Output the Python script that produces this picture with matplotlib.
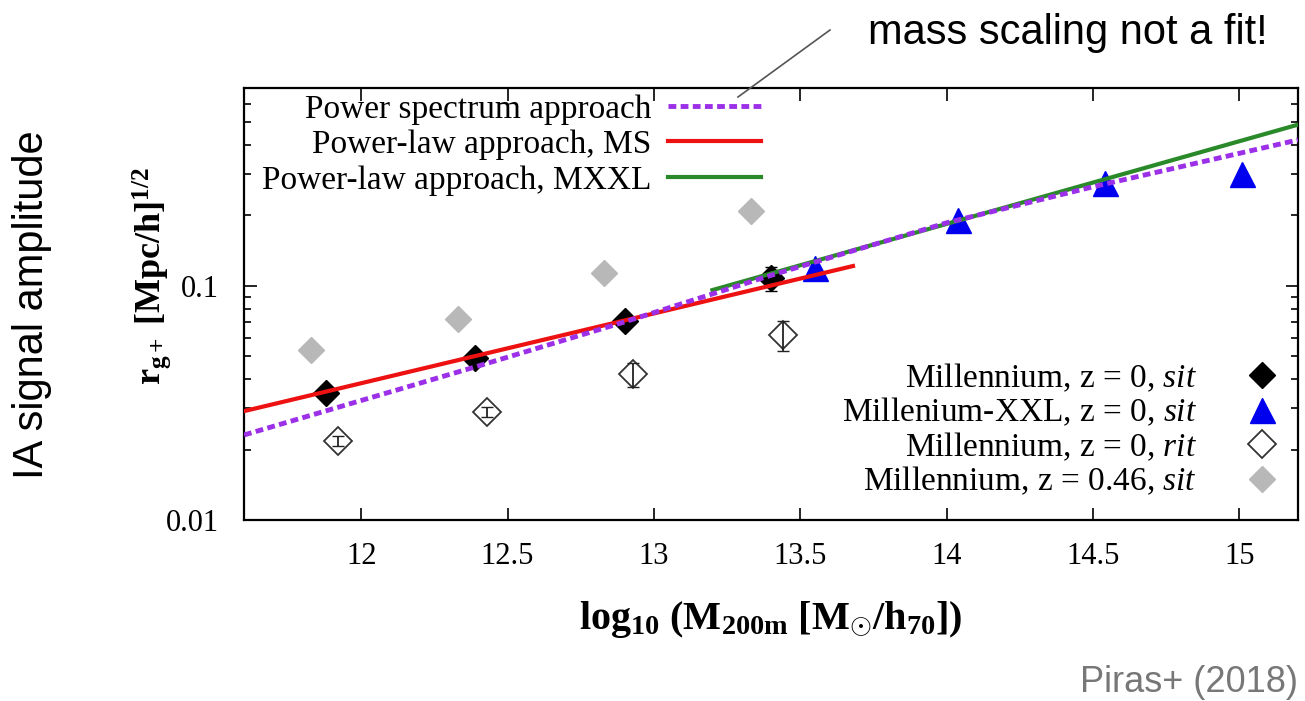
import matplotlib
matplotlib.use('Agg')
import matplotlib.pyplot as plt
from matplotlib.ticker import FixedLocator, LogLocator, NullFormatter
import numpy as np

plt.rcParams['font.family'] = 'Liberation Serif'
plt.rcParams['mathtext.fontset'] = 'custom'
plt.rcParams['mathtext.rm'] = 'Liberation Serif'
plt.rcParams['mathtext.it'] = 'Liberation Serif:italic'
plt.rcParams['mathtext.bf'] = 'Liberation Serif:bold'

# Millennium, z = 0, sit
ms_x = [11.88, 12.39, 12.90, 13.40]
ms_y = [0.0349, 0.0492, 0.0709, 0.108]
ms_err = [0.001, 0.0015, 0.002, 0.013]

# Millenium-XXL, z = 0, sit
mxxl_x = [13.55, 14.04, 14.54, 15.01]
mxxl_y = [0.119, 0.191, 0.275, 0.300]

# Millennium, z = 0, rit
rit_x = [11.92, 12.43, 12.93, 13.44]
rit_y = [0.0218, 0.029, 0.042, 0.0618]
rit_err = [0.0011, 0.0015, 0.005, 0.009]

# Millennium, z = 0.46, sit
z46_x = [11.83, 12.33, 12.83, 13.33]
z46_y = [0.0532, 0.0723, 0.1137, 0.209]

# model curves
ps_x = [11.6, 12.4, 12.9, 13.4, 14.0, 14.5, 15.2]
ps_y = [0.0231, 0.0455, 0.0702, 0.111, 0.186, 0.265, 0.42]
red_x = [11.6, 13.68]
red_y = [0.0292, 0.1216]
green_x = [13.2, 15.2]
green_y = [0.096, 0.488]

xticks = [12, 12.5, 13, 13.5, 14, 14.5, 15]
xtick_labels = ['12', '12.5', '13', '13.5', '14', '14.5', '15']

fig = plt.figure(figsize=(13.05, 7.01), dpi=100)
ax = fig.add_axes([0.187, 0.258, 0.8076, 0.6165])

# points (drawn under the lines)
p1, = ax.plot(ms_x, ms_y, 'D', color='black', ms=13, zorder=3)
ax.errorbar(ms_x, ms_y, yerr=ms_err, fmt='none', ecolor='black', elinewidth=1.5, capsize=4, zorder=3)
p2, = ax.plot(mxxl_x, mxxl_y, '^', color='#0000ee', ms=18, zorder=3)
p3, = ax.plot(rit_x, rit_y, 'D', mfc='white', mec='#333333', mew=1.3, ms=14, zorder=3)
ax.errorbar(rit_x, rit_y, yerr=rit_err, fmt='none', ecolor='#222222', elinewidth=1.3, capsize=4, zorder=3)
p4, = ax.plot(z46_x, z46_y, 'D', color='#b8b8b8', ms=13, zorder=3)

l1, = ax.plot(ps_x, ps_y, color='#9b30e8', lw=3.5, linestyle=(0, (1.6, 0.9)), zorder=5)
l2, = ax.plot(red_x, red_y, color='#ee1111', lw=3, zorder=4)
l3, = ax.plot(green_x, green_y, color='#2a8a2a', lw=3, zorder=4)

ax.set_yscale('log')
ax.set_xlim(11.6, 15.2)
ax.set_ylim(0.01, 0.7)

ax.xaxis.set_major_locator(FixedLocator(xticks))
ax.set_xticklabels(xtick_labels)
ax.yaxis.set_major_locator(FixedLocator([0.01, 0.1]))
ax.set_yticklabels(['0.01', '0.1'])
ax.yaxis.set_minor_locator(LogLocator(base=10, subs=np.arange(2, 10)))
ax.yaxis.set_minor_formatter(NullFormatter())

ax.tick_params(which='both', direction='in', top=True, right=True, width=1.2)
ax.tick_params(which='major', length=9)
ax.tick_params(which='minor', length=5)
ax.tick_params(axis='x', labelsize=22, pad=16)
ax.tick_params(axis='y', labelsize=22, pad=18)
for s in ax.spines.values():
    s.set_linewidth(1.6)

ax.set_xlabel(r'$\mathbf{log_{10}\ (M_{200m}\ [M_{\odot}/h_{70}])}$', fontsize=29, labelpad=20)
ax.set_ylabel(r'$\mathbf{r_{g+}\ [Mpc/h]^{1/2}}$', fontsize=26)
ax.yaxis.set_label_coords(-0.067, 0.565)

leg1 = ax.legend([l1, l2, l3],
                 ['Power spectrum approach', 'Power-law approach, MS', 'Power-law approach, MXXL'],
                 loc='upper left', bbox_to_anchor=(0.017, 0.986), markerfirst=False, frameon=False,
                 fontsize=24, handlelength=2.8, handletextpad=0.5, labelspacing=0.15,
                 borderaxespad=0, borderpad=0)
ax.add_artist(leg1)
ax.legend([p1, p2, p3, p4],
          ['Millennium, z = 0, $\\mathit{sit}$', 'Millenium-XXL, z = 0, $\\mathit{sit}$',
           'Millennium, z = 0, $\\mathit{rit}$', 'Millennium, z = 0.46, $\\mathit{sit}$'],
          loc='lower right', bbox_to_anchor=(0.9896, 0.053), markerfirst=False, frameon=False,
          fontsize=24, numpoints=1, handlelength=1.5, handletextpad=1.2, labelspacing=0.06,
          borderaxespad=0, borderpad=0)

# slide annotations
fig.text(32 / 1305, 1 - 305 / 701, 'IA signal amplitude', rotation=90, ha='center', va='center',
         fontsize=30, family='Liberation Sans')
fig.text(1268 / 1305, 1 - 33 / 701, 'mass scaling not a fit!', ha='right', va='center',
         fontsize=30, family='Liberation Sans')
fig.add_artist(plt.Line2D([738 / 1305, 830 / 1305], [1 - 97 / 701, 1 - 30 / 701],
                          color='#555555', lw=1.2))
fig.text(1298 / 1305, 1 - 683 / 701, 'Piras+ (2018)', ha='right', va='center',
         fontsize=26, family='Liberation Sans', color='#777777')

fig.savefig('out.png', dpi=100)
